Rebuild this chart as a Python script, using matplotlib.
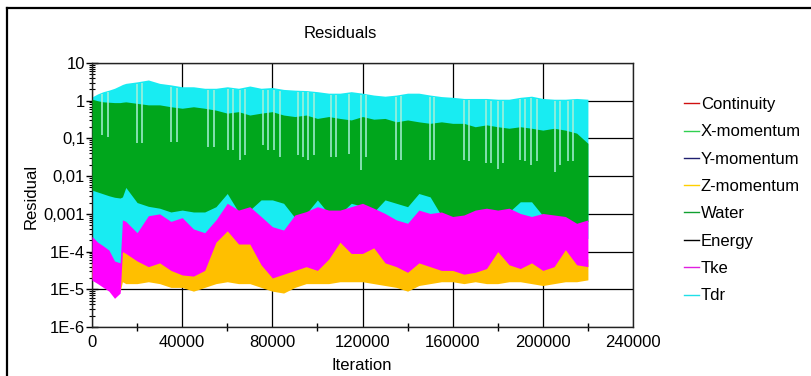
import matplotlib
matplotlib.use('Agg')
import matplotlib.pyplot as plt
from matplotlib.lines import Line2D
from matplotlib.ticker import FixedLocator, FixedFormatter, LogLocator, MultipleLocator, NullFormatter
import numpy as np

plt.rcParams['font.family'] = ['Liberation Sans', 'DejaVu Sans']

iterations = [0, 2500, 5000, 7500, 10000, 12500, 13500, 15000, 20000, 25000,
              30000, 35000, 40000, 45000, 50000, 55000, 60000, 65000, 70000, 75000,
              80000, 85000, 90000, 95000, 100000, 105000, 110000, 115000, 120000, 125000,
              130000, 135000, 140000, 145000, 150000, 155000, 160000, 165000, 170000, 175000,
              180000, 185000, 190000, 195000, 200000, 205000, 210000, 215000, 220000]

# upper / lower envelopes of each residual band, as log10 of the residual
tdr_hi = [0.10, 0.18, 0.24, 0.28, 0.33, 0.40, 0.43, 0.46, 0.50, 0.55,
          0.46, 0.42, 0.37, 0.37, 0.33, 0.33, 0.37, 0.33, 0.39, 0.33,
          0.35, 0.30, 0.28, 0.27, 0.24, 0.20, 0.20, 0.24, 0.20, 0.15,
          0.12, 0.15, 0.20, 0.20, 0.15, 0.11, 0.09, 0.06, 0.06, 0.06,
          0.04, 0.04, 0.09, 0.12, 0.06, 0.04, 0.04, 0.06, 0.04]
tdr_lo = [-4.30, -4.40, -4.50, -4.60, -4.70, -4.70, -3.60, -3.60, -3.70, -3.60,
          -3.55, -3.65, -3.70, -3.70, -3.70, -3.60, -3.55, -3.60, -3.60, -3.65,
          -3.70, -3.75, -3.65, -3.60, -3.55, -3.60, -3.60, -3.55, -3.50, -3.55,
          -3.60, -3.65, -3.70, -3.60, -3.60, -3.60, -3.65, -3.65, -3.60, -3.55,
          -3.60, -3.55, -3.60, -3.65, -3.60, -3.65, -3.65, -3.70, -3.65]
water_hi = [0.04, 0.00, -0.03, -0.04, -0.05, -0.05, -0.04, -0.03, -0.07, -0.11,
            -0.11, -0.16, -0.20, -0.16, -0.20, -0.25, -0.33, -0.29, -0.38, -0.33,
            -0.29, -0.38, -0.42, -0.38, -0.47, -0.42, -0.47, -0.51, -0.42, -0.49,
            -0.47, -0.56, -0.51, -0.56, -0.60, -0.56, -0.60, -0.60, -0.69, -0.64,
            -0.69, -0.73, -0.69, -0.73, -0.78, -0.73, -0.78, -0.86, -1.13]
water_lo = [-2.37, -2.42, -2.47, -2.52, -2.56, -2.58, -2.55, -2.30, -2.70, -2.80,
            -2.85, -2.95, -2.90, -2.95, -2.95, -2.81, -2.46, -2.95, -2.90, -2.63,
            -2.63, -2.72, -3.10, -3.00, -2.63, -3.00, -3.00, -2.72, -2.80, -2.95,
            -2.63, -2.72, -2.81, -2.46, -2.55, -3.05, -3.15, -3.10, -3.00, -2.95,
            -3.00, -2.95, -2.68, -2.68, -3.05, -3.10, -3.15, -3.30, -3.20]
tke_hi = [-3.60, -3.75, -3.85, -3.96, -4.25, -4.30, -3.16, -3.20, -3.50, -3.05,
          -3.00, -3.20, -3.10, -3.40, -3.50, -3.16, -2.72, -2.90, -2.81, -3.07,
          -3.34, -3.43, -3.03, -2.94, -2.81, -2.90, -2.90, -2.81, -2.72, -2.85,
          -2.99, -3.16, -3.25, -2.90, -2.99, -2.95, -3.07, -3.03, -2.90, -2.85,
          -2.90, -2.85, -2.99, -3.07, -2.99, -3.03, -3.07, -3.25, -3.16]
tke_lo = [-4.76, -4.85, -4.95, -5.05, -5.24, -5.10, -4.00, -4.05, -4.25, -4.40,
          -4.30, -4.50, -4.62, -4.65, -4.50, -3.75, -3.45, -3.80, -3.80, -4.35,
          -4.70, -4.60, -4.50, -4.40, -4.50, -4.20, -3.75, -4.05, -4.05, -3.90,
          -4.30, -4.40, -4.55, -4.30, -4.40, -4.50, -4.50, -4.60, -4.55, -4.45,
          -4.00, -4.35, -4.45, -4.30, -4.50, -4.40, -3.95, -4.35, -4.40]
zmom_hi = [-4.30, -4.40, -4.45, -4.50, -4.60, -4.55, -3.80, -3.85, -4.05, -4.20,
           -4.10, -4.30, -4.40, -4.45, -4.30, -3.55, -3.25, -3.60, -3.60, -4.15,
           -4.50, -4.40, -4.30, -4.20, -4.30, -4.00, -3.55, -3.85, -3.85, -3.70,
           -4.10, -4.20, -4.35, -4.10, -4.20, -4.30, -4.30, -4.40, -4.35, -4.25,
           -3.80, -4.15, -4.25, -4.10, -4.30, -4.20, -3.75, -4.15, -4.20]
zmom_lo = [-4.70, -4.80, -4.90, -5.00, -5.15, -5.05, -4.80, -4.85, -4.85, -4.80,
           -4.85, -4.95, -4.95, -5.05, -4.95, -4.85, -4.80, -4.85, -4.85, -4.95,
           -5.05, -5.10, -4.95, -4.85, -4.85, -4.85, -4.80, -4.80, -4.80, -4.85,
           -4.90, -4.95, -5.05, -4.90, -4.85, -4.80, -4.80, -4.85, -4.80, -4.85,
           -4.85, -4.80, -4.80, -4.85, -4.90, -4.85, -4.80, -4.80, -4.75]

# pale downward spikes of the Tdr trace through the green band
spike_iter = [4400, 7100, 20000, 22000, 35000, 37600, 51500, 54000, 60300, 62500,
              65700, 68000, 75700, 78000, 80900, 83400, 91200, 93400, 96000, 98600,
              105900, 108400, 114000, 119200, 121400, 134700, 136900, 149800, 151900,
              164900, 167100, 174600, 177200, 180300, 182500, 190000, 192300, 194900,
              197600, 205500, 207700, 211300, 213500]
spike_bottom = [-0.91, -0.95, -1.13, -1.13, -1.09, -1.09, -1.22, -1.22, -1.31, -1.31,
                -1.57, -1.44, -1.18, -1.31, -1.31, -1.48, -1.44, -1.48, -1.57, -1.44,
                -1.48, -1.48, -1.40, -1.84, -1.50, -1.57, -1.57, -1.57, -1.57,
                -1.57, -1.60, -1.65, -1.65, -1.80, -1.65, -1.57, -1.60, -1.70,
                -1.60, -1.90, -1.70, -1.60, -1.60]

legend_names = ['Continuity', 'X-momentum', 'Y-momentum', 'Z-momentum',
                'Water', 'Energy', 'Tke', 'Tdr']
legend_colors = ['#d01010', '#30d050', '#202070', '#ffd000',
                 '#10a030', '#000000', '#e020e0', '#20e0e8']

ytick_vals = [1e-6, 1e-5, 1e-4, 1e-3, 1e-2, 1e-1, 1, 10]
ytick_labels = ['1E-6', '1E-5', '1E-4', '0,001', '0,01', '0,1', '1', '10']

c_tdr = '#18ecf2'
c_water = '#00a61c'
c_tke = '#ff00ff'
c_zmom = '#ffbf00'
c_spike = '#a8f0d8'

fig = plt.figure(figsize=(8.12, 3.76), dpi=100)
ax = fig.add_axes([92/812, 1 - 327/376, 541/812, 264/376])

x = np.array(iterations)
p = lambda v: 10.0 ** np.array(v)

# bands, drawn in the order they stack in the picture
ax.fill_between(x, p(tdr_lo), p(tdr_hi), color=c_tdr, lw=0, zorder=2)
ax.fill_between(x, p(water_lo), p(water_hi), color=c_water, lw=0, zorder=3)
top_at_spike = np.interp(spike_iter, x, tdr_hi)
ax.vlines(spike_iter, p(spike_bottom), p(top_at_spike) * 0.9, color=c_spike, lw=1.1, zorder=4)
ax.fill_between(x, p(zmom_lo), p(zmom_hi), color=c_zmom, lw=0, zorder=5)
ax.fill_between(x, p(tke_lo), p(tke_hi), color=c_tke, lw=0, zorder=6)

ax.set_yscale('log')
ax.set_ylim(1e-6, 10)
ax.set_xlim(0, 240000)

ax.yaxis.set_major_locator(FixedLocator(ytick_vals))
ax.yaxis.set_major_formatter(FixedFormatter(ytick_labels))
ax.yaxis.set_minor_locator(LogLocator(base=10, subs=np.arange(2, 10)))
ax.yaxis.set_minor_formatter(NullFormatter())
ax.xaxis.set_major_locator(MultipleLocator(40000))
ax.xaxis.set_minor_locator(MultipleLocator(20000))
ax.xaxis.set_major_formatter(matplotlib.ticker.FuncFormatter(lambda v, pos: '%d' % v))

ax.tick_params(axis='y', which='major', direction='inout', length=8, width=1, labelsize=12, pad=1)
ax.tick_params(axis='y', which='minor', direction='inout', length=5, width=0.8)
ax.tick_params(axis='x', which='major', length=0, labelsize=12, pad=6)
ax.tick_params(axis='x', which='minor', direction='inout', length=6, width=1)

ax.grid(True, which='major', color='black', lw=0.9)
ax.set_axisbelow(True)
for s in ax.spines.values():
    s.set_color('#222222')
    s.set_linewidth(1)

fig.text(340/812, 1 - 33/376, 'Residuals', ha='center', va='center', fontsize=12)
fig.text(362/812, 1 - 365/376, 'Iteration', ha='center', va='center', fontsize=12)
fig.text(31/812, 1 - 196/376, 'Residual', ha='center', va='center', fontsize=12, rotation=90)

handles = [Line2D([], [], color=c, lw=1) for c in legend_colors]
fig.legend(handles, legend_names, loc='upper left', bbox_to_anchor=(684/812, 1 - 97/376),
           frameon=False, fontsize=12, handlelength=0.9, handletextpad=0.1,
           labelspacing=0.74, borderpad=0, borderaxespad=0)

# outer frame of the screenshot (left and top edges)
fig.add_artist(Line2D([7/812, 7/812], [0, 1 - 8/376], color='black', lw=1.6))
fig.add_artist(Line2D([7/812, 1], [1 - 8/376, 1 - 8/376], color='black', lw=1.6))

fig.savefig('out.png', dpi=100)
